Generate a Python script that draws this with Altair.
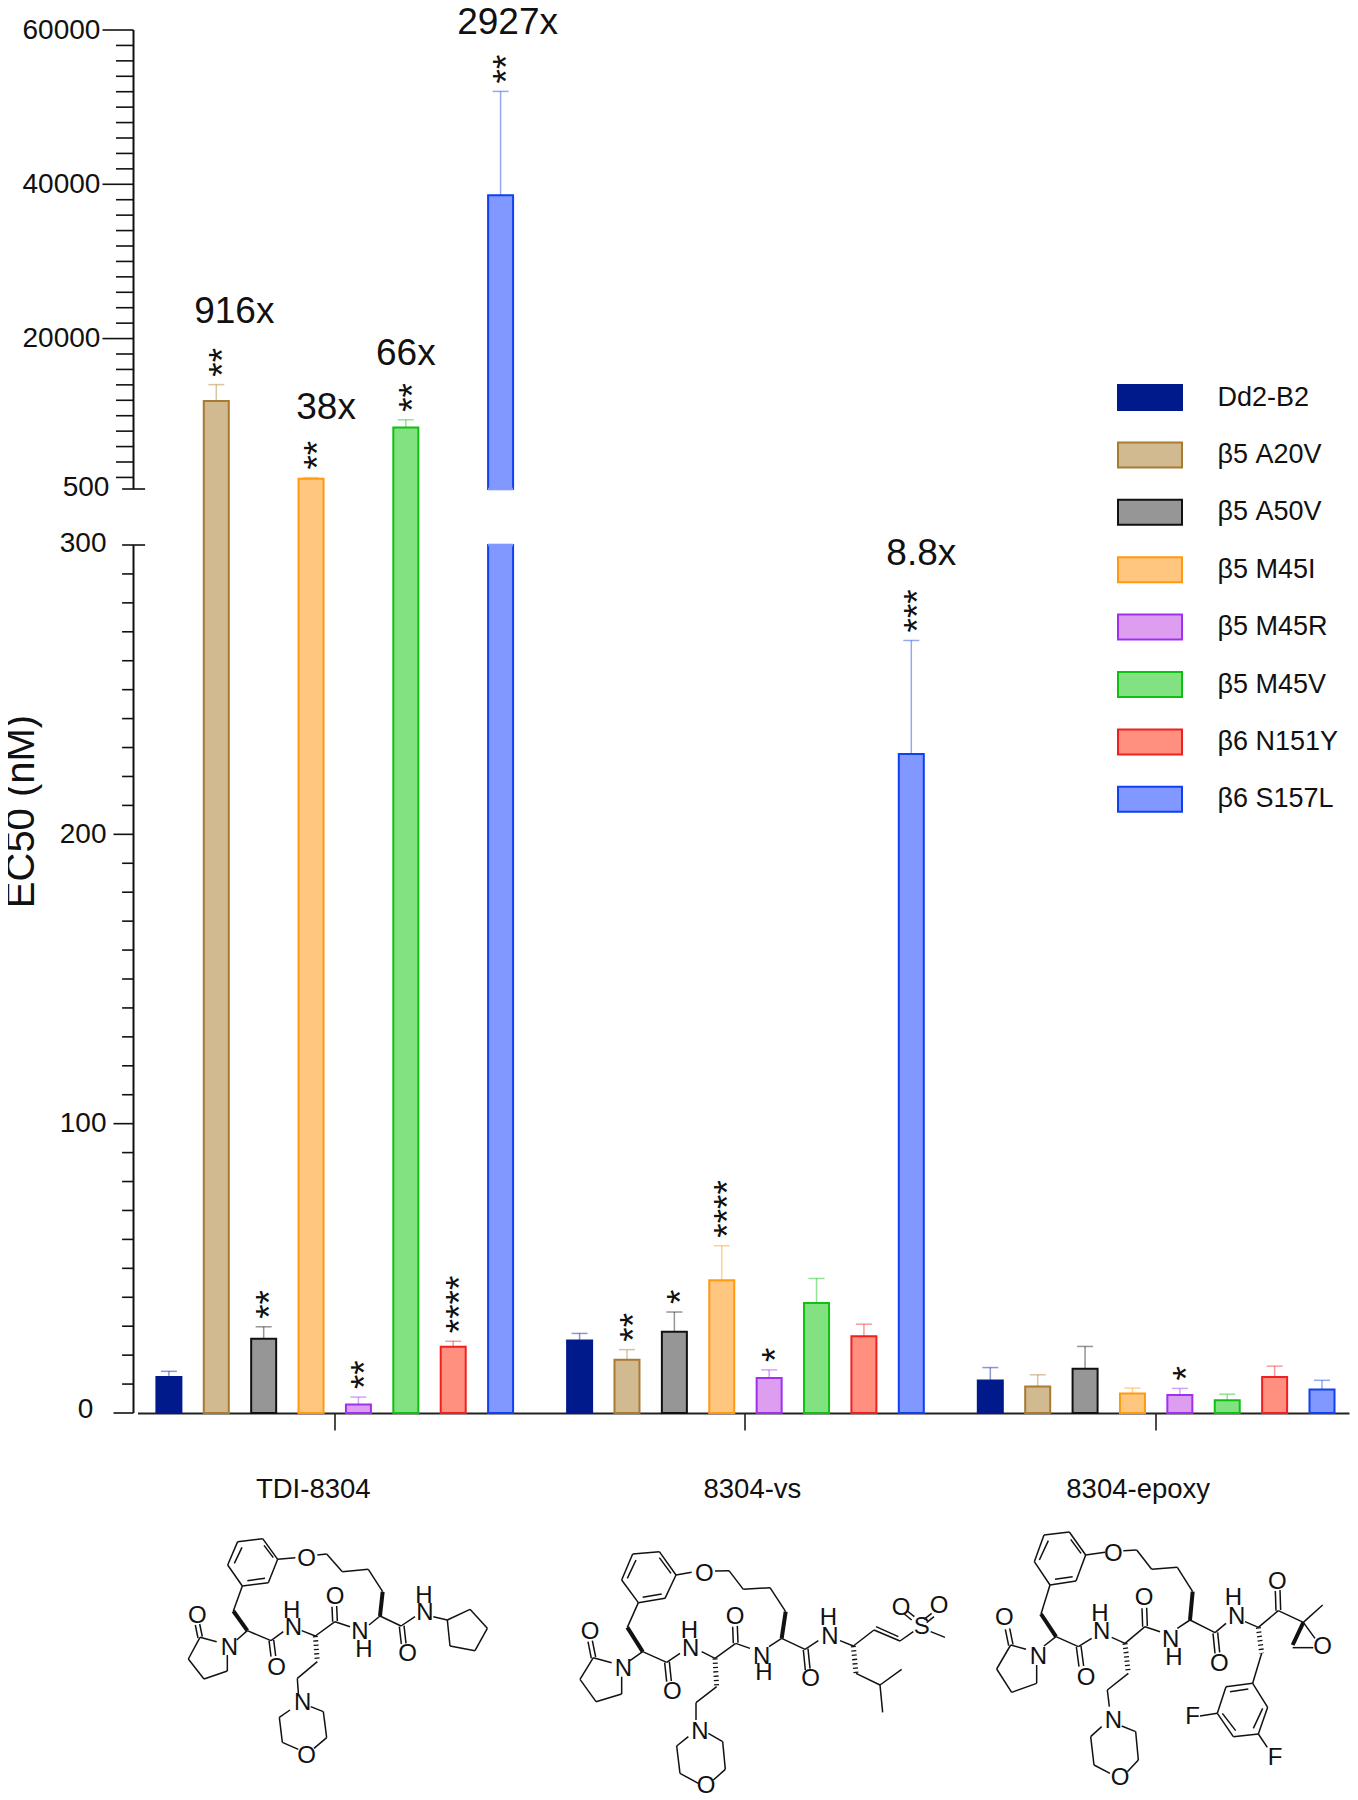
import altair as alt
import pandas as pd

FONT = "Liberation Sans"

groups = ["TDI-8304", "8304-vs", "8304-epoxy"]
series = ["Dd2-B2", "β5 A20V", "β5 A50V", "β5 M45I", "β5 M45R", "β5 M45V", "β6 N151Y", "β6 S157L"]
fills = ["#001a8c", "#d2ba90", "#969696", "#ffc680", "#dd9ef0", "#82e282", "#ff9080", "#8098ff"]
strokes = ["#001a8c", "#a87a32", "#111111", "#ff9a10", "#a030f0", "#10c010", "#f02020", "#1040f0"]

ec50_tdi = [12.4, 11900, 25.7, 1830, 2.9, 8470, 22.9, 38580]
ec50_vs = [25.1, 18.4, 28.1, 45.9, 12.1, 38.0, 26.5, 227.8]
ec50_epoxy = [11.2, 9.2, 15.3, 6.7, 6.2, 4.4, 12.4, 8.1]
top_tdi = [14.4, 14030, 29.8, 1980, 5.5, 9470, 24.8, 52040]
top_vs = [27.5, 21.9, 34.9, 57.8, 14.9, 46.5, 30.7, 267]
top_epoxy = [15.7, 13.2, 23.0, 8.6, 8.5, 6.5, 16.2, 11.3]
stars_tdi = ["", "**", "**", "**", "**", "**", "****", "**"]
stars_vs = ["", "**", "*", "****", "*", "", "", "***"]
stars_epoxy = ["", "", "", "", "*", "", "", ""]

y_domain = [0, 300, 500, 60000]
major_upper = [20000, 40000, 60000]
minor_upper = [v for v in range(2000, 60000, 2000) if v not in major_upper]
major_lower = [0, 100, 200]
minor_lower = [v for v in range(10, 300, 10) if v not in major_lower]
break_ticks = [300, 500]
axis_labels = [0, 100, 200, 300, 500, 20000, 40000, 60000]

folds = [
    ("916x", "TDI-8304", "β5 A20V", 23450, 18),
    ("38x", "TDI-8304", "β5 M45I", 11060, 15),
    ("66x", "TDI-8304", "β5 M45V", 18060, 0),
    ("2927x", "TDI-8304", "β6 S157L", 60900, 7),
    ("8.8x", "8304-vs", "β6 S157L", 296.8, 10),
]
group_label_dx = {"TDI-8304": -21.5, "8304-vs": 7, "8304-epoxy": -18}

W, H = 1211.5, 1383
rows = []
for g, vals, tops, sts in zip(groups, [ec50_tdi, ec50_vs, ec50_epoxy], [top_tdi, top_vs, top_epoxy],
                              [stars_tdi, stars_vs, stars_epoxy]):
    for s, v, t, st in zip(series, vals, tops, sts):
        rows.append(dict(group=g, series=s, value=v, top=t, star=st))
df = pd.DataFrame(rows)

# the only bar drawn with a visible cut over the axis break
seg = []
for r in rows:
    if r["group"] == "TDI-8304" and r["series"] == "β6 S157L":
        seg.append(dict(r, lo=0, hi=300))
        seg.append(dict(r, lo=500, hi=r["value"]))
    else:
        seg.append(dict(r, lo=0, hi=r["value"]))
segdf = pd.DataFrame(seg)
cut_df = pd.DataFrame([dict(group="TDI-8304", series="β6 S157L", v=300), dict(group="TDI-8304", series="β6 S157L", v=500)])

yscale = alt.Scale(domain=y_domain, range=[H, H - 868, H - 924, 0], nice=False, zero=False)
xscale = alt.Scale(domain=groups, paddingInner=0.077, paddingOuter=0.0134, align=0.7)
offs = alt.XOffset("series:N", scale=alt.Scale(domain=series), sort=series)
color_fill = alt.Scale(domain=series, range=fills)
color_stroke = alt.Scale(domain=series, range=strokes)

x_enc = alt.X("group:N", scale=xscale, sort=groups, title=None,
              axis=alt.Axis(labels=False, ticks=True, tickSize=17, tickWidth=1.5, tickColor="#111",
                            domainColor="#222", domainWidth=2, grid=False, title=None))
label_pad = {
    "condition": [
        {"test": "datum.value >= 20000", "value": 33.6},
        {"test": "datum.value == 500", "value": 24.6},
        {"test": "datum.value == 0", "value": 40.6},
    ],
    "value": 27.5,
}
label_off = {
    "condition": [
        {"test": "datum.value == 0", "value": -4},
        {"test": "datum.value == 300 || datum.value == 500", "value": -2},
    ],
    "value": 0,
}
y_axis = alt.Axis(values=axis_labels, format="d", ticks=False, domain=False, grid=False, offset=4,
                  labelFont=FONT, labelFontSize=28, labelColor="#111", labelPadding=label_pad, labelOffset=label_off,
                  title="EC50 (nM)", titleFont=FONT, titleFontSize=40, titleFontWeight="normal",
                  titleColor="#111", titleAngle=270, titleX=-92, titleY=781, labelOverlap=False)
y_enc = alt.Y("hi:Q", scale=yscale, axis=y_axis)

legend = alt.Legend(title=None, orient="none", legendX=977, legendY=354, symbolType="M-3.2,-1.25H3.2V1.25H-3.2Z",
                    symbolSize=400, symbolStrokeWidth=2, labelFont=FONT, labelFontSize=27, labelColor="#111",
                    rowPadding=24.4, symbolOffset=22, labelOffset=54, padding=0, symbolOpacity=1)

bars = alt.Chart(segdf).mark_bar(size=25, strokeWidth=2).encode(
    x=x_enc, xOffset=offs, y=y_enc, y2="lo:Q",
    fill=alt.Fill("series:N", scale=color_fill, sort=series, legend=legend),
    stroke=alt.Stroke("series:N", scale=color_stroke, sort=series, legend=legend),
)
cut_edges = alt.Chart(cut_df).mark_tick(size=25, thickness=2.6, color=fills[-1], orient="horizontal", opacity=1).encode(
    x=alt.X("group:N", scale=xscale, sort=groups), xOffset=offs, y=alt.Y("v:Q", scale=yscale))
err_stroke = alt.Color("series:N", scale=color_stroke, sort=series, legend=None)
stem = alt.Chart(df).mark_rule(strokeWidth=1.5, opacity=0.45).encode(
    x=alt.X("group:N", scale=xscale, sort=groups), xOffset=offs,
    y=alt.Y("value:Q", scale=yscale), y2="top:Q", stroke=alt.Stroke("series:N", scale=color_stroke, sort=series, legend=None))
cap = alt.Chart(df).mark_tick(size=16, thickness=1.5, opacity=0.45, orient="horizontal").encode(
    x=alt.X("group:N", scale=xscale, sort=groups), xOffset=offs,
    y=alt.Y("top:Q", scale=yscale), color=err_stroke)
star = alt.Chart(df[df.star != ""]).mark_text(font=FONT, fontSize=37, angle=270, align="left", baseline="alphabetic",
                                             dx=8, dy=18.7, color="#111").encode(
    x=alt.X("group:N", scale=xscale, sort=groups), xOffset=offs,
    y=alt.Y("top:Q", scale=yscale), text="star:N")

fold_layers = []
for txt, g, s, lvl, dx in folds:
    d = pd.DataFrame([dict(group=g, series=s, lvl=lvl, txt=txt)])
    fold_layers.append(alt.Chart(d).mark_text(font=FONT, fontSize=37, dx=dx, baseline="middle", color="#111").encode(
        x=alt.X("group:N", scale=xscale, sort=groups), xOffset=offs,
        y=alt.Y("lvl:Q", scale=yscale), text="txt:N"))

group_layers = []
for g in groups:
    d = pd.DataFrame([dict(group=g)])
    group_layers.append(alt.Chart(d).mark_text(font=FONT, fontSize=27.5, dx=group_label_dx[g], baseline="middle", color="#111").encode(
        x=alt.X("group:N", scale=xscale, sort=groups), y=alt.value(1460), text="group:N"))


def tick_layer(vals, left, right=-4, width=1.6):
    return alt.Chart(pd.DataFrame(dict(v=vals))).mark_rule(strokeWidth=width, color="#111").encode(
        y=alt.Y("v:Q", scale=yscale), x=alt.value(left), x2=alt.value(right))


axis_seg = alt.Chart(pd.DataFrame(dict(a=[0, 500], b=[300, 60000]))).mark_rule(strokeWidth=2, color="#111").encode(
    x=alt.value(-4), y=alt.Y("a:Q", scale=yscale), y2="b:Q")

main = alt.layer(
    bars, cut_edges, stem, cap, star, *fold_layers, *group_layers, axis_seg,
    tick_layer(major_upper, -35), tick_layer(minor_upper, -21.5),
    tick_layer(major_lower, -24), tick_layer(minor_lower, -15.4), tick_layer(break_ticks, -15.4, 7.6),
)

# ---- skeletal formulae: chains of atom positions ----
mol1_origin = (170, 1510)
mol1_chains = [
    [(203,95),(278,86),(323,148),(295,218),(217,228),(173,165),(203,95)],
    [(216,112),(193,160)], [(282,106),(310,143)], [(232,212),(285,205)],
    [(323,148),(376,143)], [(442,135),(470,132),(517,185),(595,178),(638,245)],
    [(630,318),(693,348),(735,320)], [(688,350),(694,402)], [(702,347),(708,400)],
    [(790,320),(832,330)], [(832,330),(900,298),(952,355),(915,422),(840,408),(832,330)],
    [(630,318),(597,345)], [(540,350),(495,335)], [(488,335),(486,290)], [(502,333),(500,288)],
    [(495,335),(436,378),(395,362)], [(340,365),(303,392)], [(297,392),(303,440)], [(311,390),(317,438)],
    [(303,392),(232,362)], [(190,303),(217,228)], [(232,362),(200,390)], [(140,395),(90,382)],
    [(84,384),(76,345)], [(97,380),(89,342)], [(90,382),(55,447),(102,507),(172,483),(172,435)],
    [(442,455),(382,505),(385,550)], [(360,600),(328,622),(337,697),(385,718)],
    [(432,715),(470,683),(460,605),(422,590)],
]
mol1_wedges = [[(638,245),(630,318)], [(232,362),(190,303)]]
mol1_hashes = [[(436,378),(442,455)]]
mol1_atoms = [("O",410,147),("N",765,310),("H",762,258),("O",713,432),("N",570,365),("H",582,420),("O",495,262),
              ("N",370,355),("H",365,303),("O",320,475),("N",178,415),("O",82,318),("N",398,580),("O",410,738)]

mol2_origin = (570, 1510)
mol2_chains = [
    [(188,132),(268,125),(318,195),(285,265),(205,278),(155,210),(188,132)],
    [(198,150),(172,205)], [(268,143),(303,190)], [(218,262),(275,252)],
    [(318,195),(365,187)], [(435,183),(477,182),(520,238),(600,233),(647,305)],
    [(635,385),(705,418),(745,392)], [(700,420),(706,480)], [(714,416),(720,476)],
    [(810,392),(850,408),(912,360),(990,393),(1030,365)], [(918,350),(985,380)],
    [(1025,330),(1003,312)], [(1033,320),(1012,303)], [(1062,328),(1085,310)], [(1070,338),(1092,320)],
    [(1082,365),(1125,382)], [(858,490),(930,525),(995,478)], [(930,525),(938,607)],
    [(635,385),(597,410)], [(540,415),(497,400)], [(490,400),(488,350)], [(504,398),(502,348)],
    [(497,400),(435,445),(395,425)], [(330,430),(290,457)], [(284,458),(290,515)], [(298,455),(304,513)],
    [(290,457),(218,425)], [(172,352),(205,278)], [(218,425),(180,452)], [(125,458),(70,443)],
    [(64,445),(54,395)], [(77,441),(67,392)], [(70,443),(30,508),(78,575),(155,552),(155,500)],
    [(440,530),(378,578),(378,630)], [(355,680),(320,708),(330,790),(385,820)],
    [(430,810),(466,778),(458,695),(415,670)],
]
mol2_wedges = [[(647,305),(635,385)], [(218,425),(172,352)]]
mol2_hashes = [[(850,408),(858,490)], [(435,445),(440,530)]]
mol2_atoms = [("O",403,192),("N",780,380),("H",775,323),("O",722,508),("N",575,440),("H",582,490),("O",495,322),
              ("N",362,418),("H",358,362),("O",307,547),("N",160,477),("O",60,367),("N",390,665),("O",408,828),
              ("S",1055,350),("O",993,295),("O",1107,287)]

mol3_origin = (970, 1510)
mol3_chains = [
    [(222,75),(298,66),(347,135),(318,213),(240,225),(193,155),(222,75)],
    [(235,92),(208,150)], [(302,88),(333,130)], [(255,208),(308,200)],
    [(347,135),(405,127)], [(460,122),(500,120),(545,178),(622,172),(668,245)],
    [(660,330),(735,368),(768,340)], [(729,370),(735,430)], [(743,367),(749,427)],
    [(825,335),(865,352),(925,302),(1000,337),(1058,285)], [(918,302),(916,243)], [(932,300),(930,240)],
    [(968,413),(1030,413)], [(1000,337),(1035,385)], [(875,430),(848,520)],
    [(848,520),(768,530),(742,610),(790,680),(865,672),(893,592),(848,520)],
    [(780,545),(835,537)], [(757,610),(797,662)], [(850,655),(878,595)],
    [(742,610),(690,618)], [(865,672),(892,712)],
    [(660,330),(622,355)], [(570,365),(525,350)], [(518,350),(516,295)], [(532,348),(530,293)],
    [(525,350),(465,400),(425,382)], [(365,385),(325,410)], [(319,411),(327,470)], [(333,408),(341,468)],
    [(325,410),(258,380)], [(213,312),(240,225)], [(258,380),(222,408)], [(168,418),(122,405)],
    [(116,407),(106,358)], [(129,403),(119,355)], [(122,405),(80,477),(125,547),(200,520),(200,465)],
    [(475,490),(412,540),(418,590)], [(395,650),(362,680),(372,765),(420,790)],
    [(472,785),(505,750),(497,665),(455,648)],
]
mol3_wedges = [[(668,245),(660,330)], [(258,380),(213,312)], [(1000,337),(968,405)]]
mol3_hashes = [[(865,352),(875,430)], [(465,400),(475,490)]]
mol3_atoms = [("O",430,132),("N",800,320),("H",790,265),("O",748,462),("N",602,390),("H",612,445),("O",522,265),
              ("N",395,365),("H",390,313),("O",348,505),("N",205,440),("O",103,325),("N",430,632),("O",450,805),
              ("O",922,215),("O",1058,412),("F",668,622),("F",915,745)]


def segs(origin, chains):
    out = []
    for ch in chains:
        for (x1, y1), (x2, y2) in zip(ch[:-1], ch[1:]):
            out.append(dict(x=x1 + origin[0] * 3, y=y1 + origin[1] * 3, x2=x2 + origin[0] * 3, y2=y2 + origin[1] * 3))
    return out


mols = [(mol1_origin, mol1_chains, mol1_wedges, mol1_hashes, mol1_atoms),
        (mol2_origin, mol2_chains, mol2_wedges, mol2_hashes, mol2_atoms),
        (mol3_origin, mol3_chains, mol3_wedges, mol3_hashes, mol3_atoms)]
bond_df = pd.DataFrame([s for o, c, *_ in mols for s in segs(o, c)])
wedge_df = pd.DataFrame([s for o, _, w, *_ in mols for s in segs(o, w)])
hash_df = pd.DataFrame([s for o, _, _, h, _ in mols for s in segs(o, h)])
atom_df = pd.DataFrame([dict(t=t, x=x + o[0] * 3, y=y + o[1] * 3) for o, _, _, _, a in mols for t, x, y in a])

mx = alt.Scale(domain=[137.5 * 3, 1349 * 3], nice=False, zero=False)
my = alt.Scale(domain=[1413 * 3, 30 * 3], nice=False, zero=False)


def bond_layer(data, **kw):
    return alt.Chart(data).mark_rule(color="#111", **kw).encode(
        x=alt.X("x:Q", scale=mx, axis=None), x2="x2:Q", y=alt.Y("y:Q", scale=my, axis=None), y2="y2:Q")


structures = alt.layer(
    bond_layer(bond_df, strokeWidth=1.5),
    bond_layer(wedge_df, strokeWidth=4),
    bond_layer(hash_df, strokeWidth=5, strokeDash=[1.3, 3]),
    alt.Chart(atom_df).mark_text(font=FONT, fontSize=24, color="#111", baseline="middle").encode(
        x=alt.X("x:Q", scale=mx, axis=None), y=alt.Y("y:Q", scale=my, axis=None), text="t:N"),
)

chart = alt.layer(main, structures).resolve_scale(x="independent", y="independent").properties(
    width=W, height=H, autosize=alt.AutoSizeParams(type="none"),
    padding={"left": 129.5, "top": 22, "right": 1, "bottom": 387},
).configure_view(stroke=None).configure_axis(labelFlush=False)

chart.save("out.html", embed_options={"renderer": "svg", "actions": False})
